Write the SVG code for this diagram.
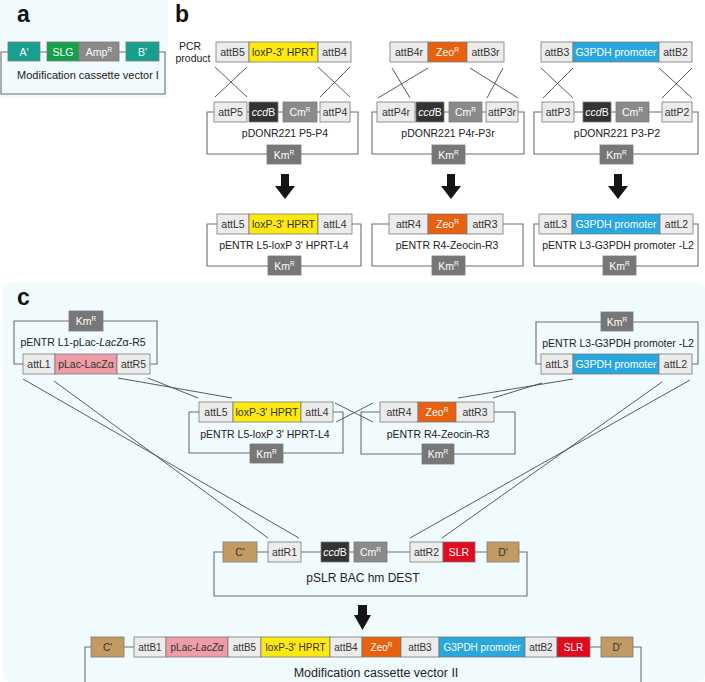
<svg xmlns="http://www.w3.org/2000/svg" width="705" height="682" viewBox="0 0 705 682">
<style>
.bg{fill:#f1fafd}
.ln{fill:none;stroke:#6e6e6e;stroke-width:1.1}
.cx{fill:none;stroke:#4a4a4a;stroke-width:0.9}
.b{stroke:#7a7a7a;stroke-width:0.8}
.att{fill:#ececec}
.yel{fill:#fde910}
.org{fill:#e8610f}
.blu{fill:#29a7df}
.pnk{fill:#ee9ca6}
.tan{fill:#c29b62}
.red{fill:#e00a1c}
.dk{fill:#333333}
.cm{fill:#8a8a8a}
.km{fill:#777777}
.teal{fill:#18a08f}
.grn{fill:#13a04b}
.ar{fill:#151515}
text{font-family:"Liberation Sans",Arial,Helvetica,sans-serif}
.t{font-size:10.5px;fill:#333;text-anchor:middle}
.s{font-size:10px}
.w{fill:#fff}
.lb{font-size:10.5px;fill:#222;text-anchor:middle}
.pl{font-size:23px;font-weight:bold;fill:#111}
</style>
<rect class="bg" x="0" y="0" width="168" height="98"/>
<rect class="bg" x="3" y="283" width="702" height="399" rx="8"/>
<text class="pl" x="17" y="22">a</text>
<text class="pl" x="175" y="22">b</text>
<text class="pl" x="17" y="305">c</text>

<g id="a-cassette-vector-I">
<path class="ln" d="M8,52H1V94H165V52H159M40,52H47M119,52H126"/>
<rect class="b teal" x="8" y="42" width="32" height="19"/><text class="t w" x="24" y="56">A'</text>
<rect class="b grn" x="47" y="42" width="32" height="19"/><text class="t w" x="63" y="56">SLG</text>
<rect class="b cm" x="79" y="42" width="40" height="19"/><text class="t w" x="99" y="56">Amp<tspan font-size="6.5" dy="-4">R</tspan></text>
<rect class="b teal" x="126" y="42" width="33" height="19"/><text class="t w" x="142.5" y="56">B'</text>
<text class="lb" x="88" y="79" style="font-size:11px">Modification cassette vector I</text>
</g>

<g id="b-pcr-loxp">
<text class="lb" x="190" y="50">PCR</text>
<text class="lb" x="193" y="62">product</text>
<rect class="b att" x="216" y="42" width="33" height="20"/><text class="t" x="232.5" y="56">attB5</text>
<rect class="b yel" x="249" y="42" width="69" height="20"/><text class="t" x="283.5" y="56">loxP-3' HPRT</text>
<rect class="b att" x="318" y="42" width="33" height="20"/><text class="t" x="334.5" y="56">attB4</text>
</g>
<g id="b-pdonr-p5p4">
<path class="ln" d="M214,112H207V154H358V112H350M247,112H249M278,112H283M317,112H320"/>
<rect class="b att" x="214" y="102" width="33" height="20"/><text class="t" x="230.5" y="116">attP5</text>
<rect class="b dk" x="249" y="102" width="29" height="20"/><text class="t w" x="263.5" y="116"><tspan font-style="italic">ccd</tspan>B</text>
<rect class="b cm" x="283" y="102" width="34" height="20"/><text class="t w" x="300" y="116">Cm<tspan font-size="6.5" dy="-4">R</tspan></text>
<rect class="b att" x="320" y="102" width="30" height="20"/><text class="t" x="335" y="116">attP4</text>
<text class="lb" x="285" y="137">pDONR221 P5-P4</text>
<rect class="b km" x="267" y="145" width="34" height="19"/><text class="t w" x="284" y="159">Km<tspan font-size="6.5" dy="-4">R</tspan></text>
</g>

<g id="b-pcr-zeo">
<rect class="b att" x="390" y="42" width="38" height="20"/><text class="t" x="409" y="56">attB4r</text>
<rect class="b org" x="428" y="42" width="39" height="20"/><text class="t w" x="447.5" y="56">Zeo<tspan font-size="6.5" dy="-4">R</tspan></text>
<rect class="b att" x="467" y="42" width="37" height="20"/><text class="t" x="485.5" y="56">attB3r</text>
</g>
<g id="b-pdonr-p4rp3r">
<path class="ln" d="M377,112H372V154H524V112H518M415,112H416M444,112H449M482,112H486"/>
<rect class="b att" x="377" y="102" width="38" height="20"/><text class="t" x="396" y="116">attP4r</text>
<rect class="b dk" x="416" y="102" width="28" height="20"/><text class="t w" x="430" y="116"><tspan font-style="italic">ccd</tspan>B</text>
<rect class="b cm" x="449" y="102" width="33" height="20"/><text class="t w" x="465.5" y="116">Cm<tspan font-size="6.5" dy="-4">R</tspan></text>
<rect class="b att" x="486" y="102" width="32" height="20"/><text class="t" x="502" y="116">attP3r</text>
<text class="lb" x="448" y="137">pDONR221 P4r-P3r</text>
<rect class="b km" x="432" y="145" width="33" height="19"/><text class="t w" x="448.5" y="159">Km<tspan font-size="6.5" dy="-4">R</tspan></text>
</g>

<g id="b-pcr-g3pdh">
<rect class="b att" x="541" y="42" width="32" height="20"/><text class="t" x="557" y="56">attB3</text>
<rect class="b blu" x="573" y="42" width="86" height="20"/><text class="t w" x="616" y="56">G3PDH promoter</text>
<rect class="b att" x="659" y="42" width="33" height="20"/><text class="t" x="675.5" y="56">attB2</text>
</g>
<g id="b-pdonr-p3p2">
<path class="ln" d="M542,112H534V154H698V112H692M574,112H583M611,112H616M649,112H662"/>
<rect class="b att" x="542" y="102" width="32" height="20"/><text class="t" x="558" y="116">attP3</text>
<rect class="b dk" x="583" y="102" width="28" height="20"/><text class="t w" x="597" y="116"><tspan font-style="italic">ccd</tspan>B</text>
<rect class="b cm" x="616" y="102" width="33" height="20"/><text class="t w" x="632.5" y="116">Cm<tspan font-size="6.5" dy="-4">R</tspan></text>
<rect class="b att" x="662" y="102" width="30" height="20"/><text class="t" x="677" y="116">attP2</text>
<text class="lb" x="617" y="137">pDONR221 P3-P2</text>
<rect class="b km" x="600" y="145" width="33" height="19"/><text class="t w" x="616.5" y="159">Km<tspan font-size="6.5" dy="-4">R</tspan></text>
</g>

<g id="b-pentr-l5l4">
<path class="ln" d="M217,224H207V266H361V224H352"/>
<rect class="b att" x="217" y="214" width="32" height="20"/><text class="t" x="233" y="228">attL5</text>
<rect class="b yel" x="249" y="214" width="69" height="20"/><text class="t" x="283.5" y="228">loxP-3' HPRT</text>
<rect class="b att" x="318" y="214" width="34" height="20"/><text class="t" x="335" y="228">attL4</text>
<text class="lb" x="284" y="249">pENTR L5-loxP 3' HPRT-L4</text>
<rect class="b km" x="268" y="256" width="33" height="19"/><text class="t w" x="284.5" y="270">Km<tspan font-size="6.5" dy="-4">R</tspan></text>
</g>
<g id="b-pentr-r4r3">
<path class="ln" d="M389,224H372V266H523V224H503"/>
<rect class="b att" x="389" y="214" width="39" height="20"/><text class="t" x="408.5" y="228">attR4</text>
<rect class="b org" x="428" y="214" width="39" height="20"/><text class="t w" x="447.5" y="228">Zeo<tspan font-size="6.5" dy="-4">R</tspan></text>
<rect class="b att" x="467" y="214" width="36" height="20"/><text class="t" x="485" y="228">attR3</text>
<text class="lb" x="447" y="249">pENTR R4-Zeocin-R3</text>
<rect class="b km" x="432" y="256" width="33" height="19"/><text class="t w" x="448.5" y="270">Km<tspan font-size="6.5" dy="-4">R</tspan></text>
</g>
<g id="b-pentr-l3l2">
<path class="ln" d="M539,224H534V266H698V224H693"/>
<rect class="b att" x="539" y="214" width="33" height="20"/><text class="t" x="555.5" y="228">attL3</text>
<rect class="b blu" x="572" y="214" width="88" height="20"/><text class="t w" x="616" y="228">G3PDH promoter</text>
<rect class="b att" x="660" y="214" width="33" height="20"/><text class="t" x="676.5" y="228">attL2</text>
<text class="lb" x="618" y="249">pENTR L3-G3PDH promoter -L2</text>
<rect class="b km" x="603" y="256" width="33" height="19"/><text class="t w" x="619.5" y="270">Km<tspan font-size="6.5" dy="-4">R</tspan></text>
</g>

<g id="c-pentr-l1r5">
<path class="ln" d="M23,364H14V321H157V364H150"/>
<rect class="b km" x="69" y="311" width="34" height="20"/><text class="t w" x="86" y="325">Km<tspan font-size="6.5" dy="-4">R</tspan></text>
<text class="lb" x="83" y="346">pENTR L1-pLac-<tspan font-style="italic">Lac</tspan>Zα-R5</text>
<rect class="b att" x="23" y="354" width="32" height="20"/><text class="t" x="39" y="368">attL1</text>
<rect class="b pnk" x="55" y="354" width="62" height="20"/><text class="t" x="86" y="368">pLac-LacZα</text>
<rect class="b att" x="117" y="354" width="33" height="20"/><text class="t" x="133.5" y="368">attR5</text>
</g>
<g id="c-pentr-l5l4">
<path class="ln" d="M199,412H189V453H343V412H333"/>
<rect class="b att" x="199" y="402" width="34" height="20"/><text class="t" x="216" y="416">attL5</text>
<rect class="b yel" x="233" y="402" width="68" height="20"/><text class="t" x="267" y="416">loxP-3' HPRT</text>
<rect class="b att" x="301" y="402" width="32" height="20"/><text class="t" x="317" y="416">attL4</text>
<text class="lb" x="265" y="438">pENTR L5-loxP 3' HPRT-L4</text>
<rect class="b km" x="250" y="444" width="33" height="19"/><text class="t w" x="266.5" y="458">Km<tspan font-size="6.5" dy="-4">R</tspan></text>
</g>
<g id="c-pentr-r4r3">
<path class="ln" d="M380,412H361V454H515V412H494"/>
<rect class="b att" x="380" y="402" width="38" height="20"/><text class="t" x="399" y="416">attR4</text>
<rect class="b org" x="418" y="402" width="38" height="20"/><text class="t w" x="437" y="416">Zeo<tspan font-size="6.5" dy="-4">R</tspan></text>
<rect class="b att" x="456" y="402" width="38" height="20"/><text class="t" x="475" y="416">attR3</text>
<text class="lb" x="438" y="438">pENTR R4-Zeocin-R3</text>
<rect class="b km" x="422" y="444" width="32" height="20"/><text class="t w" x="438" y="458">Km<tspan font-size="6.5" dy="-4">R</tspan></text>
</g>
<g id="c-pentr-l3l2">
<path class="ln" d="M541,364H536V322H698V364H692"/>
<rect class="b km" x="601" y="312" width="32" height="19"/><text class="t w" x="617" y="326">Km<tspan font-size="6.5" dy="-4">R</tspan></text>
<text class="lb" x="618" y="347">pENTR L3-G3PDH promoter -L2</text>
<rect class="b att" x="541" y="354" width="32" height="20"/><text class="t" x="557" y="368">attL3</text>
<rect class="b blu" x="573" y="354" width="86" height="20"/><text class="t w" x="616" y="368">G3PDH promoter</text>
<rect class="b att" x="659" y="354" width="33" height="20"/><text class="t" x="675.5" y="368">attL2</text>
</g>

<g id="c-pslr-bac-hm-dest">
<path class="ln" d="M223,552H214V596H527V552H519M257,552H268M301,552H321M349,552H354M387,552H410M475,552H487"/>
<rect class="b tan" x="223" y="542" width="34" height="20"/><text class="t" x="240" y="556">C'</text>
<rect class="b att" x="268" y="542" width="33" height="20"/><text class="t" x="284.5" y="556">attR1</text>
<rect class="b dk" x="321" y="542" width="28" height="20"/><text class="t w" x="335" y="556"><tspan font-style="italic">ccd</tspan>B</text>
<rect class="b cm" x="354" y="542" width="33" height="20"/><text class="t w" x="370.5" y="556">Cm<tspan font-size="6.5" dy="-4">R</tspan></text>
<rect class="b att" x="410" y="542" width="33" height="20"/><text class="t" x="426.5" y="556">attR2</text>
<rect class="b red" x="443" y="542" width="32" height="20"/><text class="t w" x="459" y="556">SLR</text>
<rect class="b tan" x="487" y="542" width="32" height="20"/><text class="t" x="503" y="556">D'</text>
<text class="lb" x="363" y="582" style="font-size:12px">pSLR BAC hm DEST</text>
</g>

<g id="c-cassette-vector-II">
<path class="ln" d="M91,647H85V690M124,647H134M590,647H601M633,647H641V690"/>
<rect class="b tan" x="91" y="637" width="33" height="20"/><text class="t s" x="107.5" y="651">C'</text>
<rect class="b att" x="134" y="637" width="32" height="20"/><text class="t s" x="150" y="651">attB1</text>
<rect class="b pnk" x="166" y="637" width="62" height="20"/><text class="t s" x="197" y="651">pLac-<tspan font-style="italic">LacZα</tspan></text>
<rect class="b att" x="228" y="637" width="33" height="20"/><text class="t s" x="244.5" y="651">attB5</text>
<rect class="b yel" x="261" y="637" width="69" height="20"/><text class="t s" x="295.5" y="651">loxP-3' HPRT</text>
<rect class="b att" x="330" y="637" width="32" height="20"/><text class="t s" x="346" y="651">attB4</text>
<rect class="b org" x="362" y="637" width="39" height="20"/><text class="t s w" x="381.5" y="651">Zeo<tspan font-size="6.5" dy="-4">R</tspan></text>
<rect class="b att" x="401" y="637" width="38" height="20"/><text class="t s" x="420" y="651">attB3</text>
<rect class="b blu" x="439" y="637" width="86" height="20"/><text class="t s w" x="482" y="651">G3PDH promoter</text>
<rect class="b att" x="525" y="637" width="32" height="20"/><text class="t s" x="541" y="651">attB2</text>
<rect class="b red" x="557" y="637" width="33" height="20"/><text class="t s w" x="573.5" y="651">SLR</text>
<rect class="b tan" x="601" y="637" width="32" height="20"/><text class="t s" x="617" y="651">D'</text>
<text class="lb" x="376" y="677" style="font-size:12.5px">Modification cassette vector II</text>
</g>

<g id="connectors">
<path class="cx" d="M215,67L247,97M247,67L215,97M318,67L350,97M350,67L320,97"/>
<path class="cx" d="M392,68L410,98M428,68L378,98M470,68L518,98M503,68L487,98"/>
<path class="cx" d="M541,68L573,98M573,68L543,98M659,68L692,98M692,68L662,98"/>
<path class="cx" d="M23,379L299,538M54,381L268,538"/>
<path class="cx" d="M118,378L232,398M148,378L198,398"/>
<path class="cx" d="M335,403L373,422M336,422L373,403"/>
<path class="cx" d="M458,398L573,379M493,398L542,383"/>
<path class="cx" d="M662,382L442,538M690,380L410,538"/>
<polygon class="ar" points="281,174 289,174 289,186 295,186 285,199 275,186 281,186"/>
<polygon class="ar" points="447,174 455,174 455,186 461,186 451,199 441,186 447,186"/>
<polygon class="ar" points="614,174 622,174 622,186 628,186 618,199 608,186 614,186"/>
<polygon class="ar" points="358,605 367,605 367,615 371,615 362.5,630 354,615 358,615"/>
</g>
</svg>
